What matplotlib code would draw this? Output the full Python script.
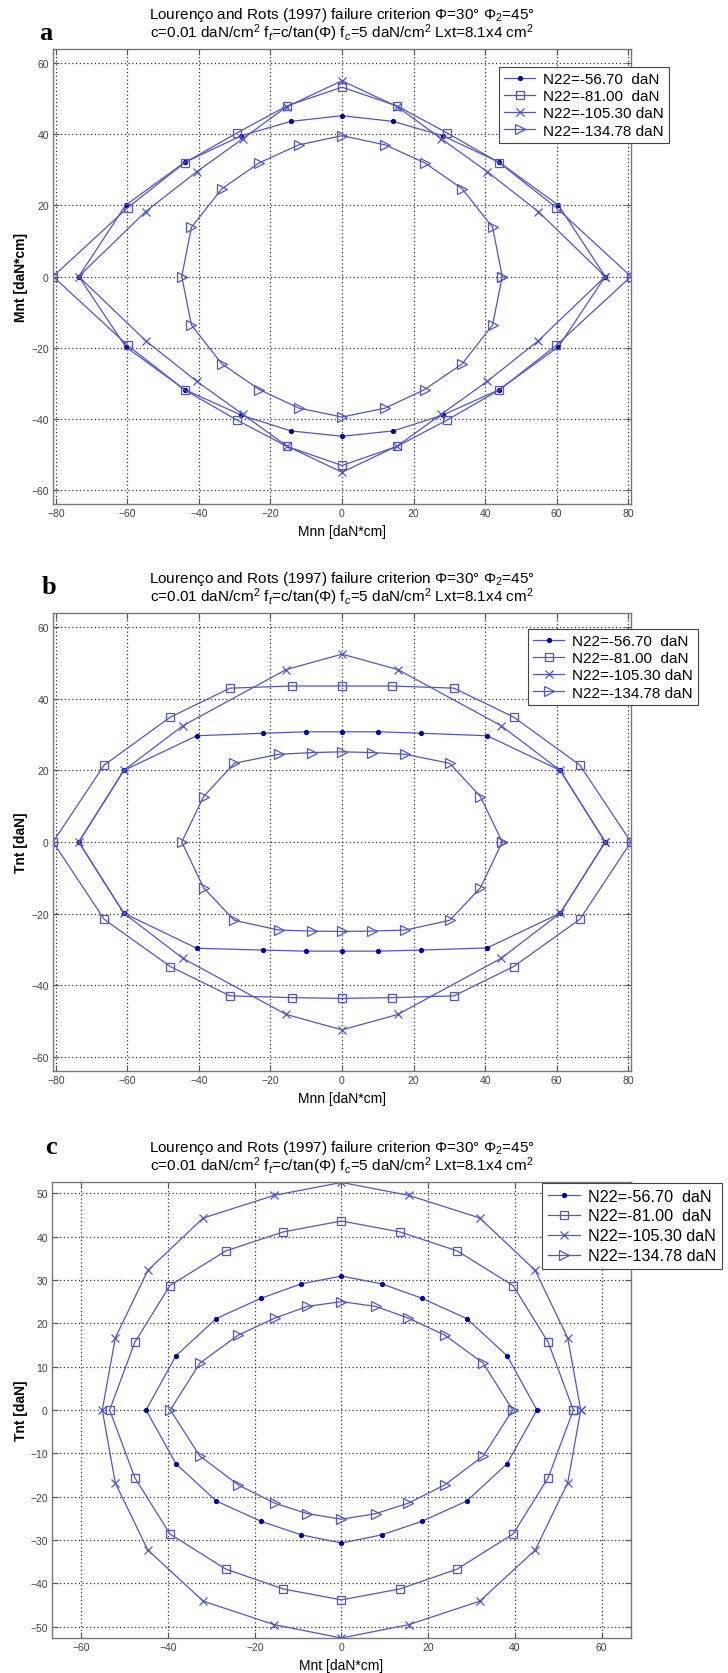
import matplotlib
matplotlib.use("Agg")
import matplotlib.pyplot as plt

plt.rcParams['font.family'] = ['Liberation Sans', 'DejaVu Sans']
plt.rcParams['mathtext.fontset'] = 'custom'
plt.rcParams['mathtext.rm'] = 'Liberation Sans'
plt.rcParams['mathtext.it'] = 'Liberation Sans:italic'
plt.rcParams['mathtext.bf'] = 'Liberation Sans:bold'

# ---------------- data ----------------
labels = ["N22=-56.70  daN", "N22=-81.00  daN", "N22=-105.30 daN", "N22=-134.78 daN"]

# Panel a : Mnn vs Mnt
a_x_1 = [73.6, 60.5, 44.0, 28.1, 14.3, 0, -14.3, -28.1, -44.0, -60.5, -73.6, -60.5, -44.0, -28.1, -14.3, 0, 14.3, 28.1, 44.0, 60.5, 73.6]
a_y_1 = [0, 20.0, 32.0, 39.5, 43.5, 45.1, 43.5, 39.5, 32.0, 20.0, 0, -19.7, -31.7, -38.9, -43.3, -44.8, -43.3, -38.9, -31.7, -19.7, 0]
a_x_2 = [80.8, 59.9, 44.0, 29.3, 15.5, 0, -15.5, -29.3, -44.0, -59.9, -80.8, -59.9, -44.0, -29.3, -15.5, 0, 15.5, 29.3, 44.0, 59.9, 80.8]
a_y_2 = [0, 19.3, 31.9, 40.3, 47.8, 53.1, 47.8, 40.3, 31.9, 19.3, 0, -19.3, -31.8, -40.3, -47.6, -53.0, -47.6, -40.3, -31.8, -19.3, 0]
a_x_3 = [73.6, 54.9, 40.6, 27.8, 15.5, 0, -15.5, -27.8, -40.6, -54.9, -73.6, -54.9, -40.6, -27.8, -15.5, 0, 15.5, 27.8, 40.6, 54.9, 73.6]
a_y_3 = [0, 18.2, 29.4, 38.6, 47.6, 54.9, 47.6, 38.6, 29.4, 18.2, 0, -18.0, -29.4, -38.6, -47.5, -54.9, -47.5, -38.6, -29.4, -18.0, 0]
a_x_4 = [44.8, 42.1, 33.6, 23.1, 12.1, 0, -12.1, -23.1, -33.6, -42.1, -44.8, -42.1, -33.6, -23.1, -12.1, 0, 12.1, 23.1, 33.6, 42.1, 44.8]
a_y_4 = [0, 13.8, 24.6, 31.9, 36.9, 39.5, 36.9, 31.9, 24.6, 13.8, 0, -13.6, -24.5, -31.7, -36.9, -39.4, -36.9, -31.7, -24.5, -13.6, 0]

# Panel b : Mnn vs Tnt
b_x_1 = [73.6, 61.0, 40.6, 22.0, 10.2, 0, -10.2, -22.0, -40.6, -61.0, -73.6, -61.0, -40.6, -22.0, -10.2, 0, 10.2, 22.0, 40.6, 61.0, 73.6]
b_y_1 = [0, 20.0, 29.7, 30.4, 30.8, 30.8, 30.8, 30.4, 29.7, 20.0, 0, -19.9, -29.7, -30.2, -30.5, -30.5, -30.5, -30.2, -29.6, -19.9, 0]
b_x_2 = [80.8, 66.5, 48.0, 31.3, 14.0, 0, -14.0, -31.3, -48.0, -66.5, -80.8, -66.5, -48.0, -31.3, -14.0, 0, 14.0, 31.3, 48.0, 66.5, 80.8]
b_y_2 = [0, 21.5, 34.9, 43.0, 43.6, 43.6, 43.6, 43.0, 34.9, 21.5, 0, -21.6, -34.8, -43.0, -43.5, -43.7, -43.5, -43.0, -34.8, -21.6, 0]
b_x_3 = [73.6, 61.0, 44.5, 15.6, 0, -15.6, -44.5, -61.0, -73.6, -61.0, -44.5, -15.6, 0, 15.6, 44.5, 61.0, 73.6]
b_y_3 = [0, 20.0, 32.5, 48.2, 52.5, 48.2, 32.5, 20.0, 0, -19.9, -32.5, -48.2, -52.5, -48.2, -32.5, -19.9, 0]
b_x_4 = [44.8, 38.7, 30.1, 17.7, 8.3, 0, -8.3, -17.7, -30.1, -38.7, -44.8, -38.7, -30.1, -17.7, -8.3, 0, 8.3, 17.7, 30.1, 38.7, 44.8]
b_y_4 = [0, 12.7, 22.0, 24.5, 25.0, 25.2, 25.0, 24.5, 22.0, 12.7, 0, -12.8, -21.9, -24.6, -24.9, -25.0, -24.9, -24.6, -21.9, -12.8, 0]

# Panel c : Mnt vs Tnt
c_x_1 = [45.1, 38.2, 28.9, 18.5, 9.3, 0, -9.3, -18.5, -28.9, -38.2, -45.1, -38.2, -28.9, -18.5, -9.3, 0, 9.3, 18.5, 28.9, 38.2, 45.1]
c_y_1 = [0, 12.5, 21.1, 25.8, 29.1, 30.9, 29.1, 25.8, 21.1, 12.5, 0, -12.4, -21.0, -25.7, -28.8, -30.7, -28.8, -25.7, -21.0, -12.4, 0]
c_x_2 = [53.5, 47.7, 39.6, 26.7, 13.4, 0, -13.4, -26.7, -39.6, -47.7, -53.5, -47.7, -39.6, -26.7, -13.4, 0, 13.4, 26.7, 39.6, 47.7, 53.5]
c_y_2 = [0, 15.6, 28.7, 36.7, 41.1, 43.6, 41.1, 36.7, 28.7, 15.6, 0, -15.6, -28.6, -36.7, -41.3, -43.8, -41.3, -36.7, -28.6, -15.6, 0]
c_x_3 = [55.2, 52.2, 44.7, 31.9, 15.6, 0, -15.6, -31.9, -44.7, -52.2, -55.2, -52.2, -44.7, -31.9, -15.6, 0, 15.6, 31.9, 44.7, 52.2, 55.2]
c_y_3 = [0, 16.6, 32.2, 44.3, 49.5, 52.5, 49.5, 44.3, 32.2, 16.6, 0, -16.8, -32.3, -44.1, -49.5, -52.6, -49.5, -44.1, -32.3, -16.8, 0]
c_x_4 = [39.5, 32.7, 23.8, 15.4, 7.9, 0, -7.9, -15.4, -23.8, -32.7, -39.5, -32.7, -23.8, -15.4, -7.9, 0, 7.9, 15.4, 23.8, 32.7, 39.5]
c_y_4 = [0, 10.8, 17.3, 21.2, 23.9, 25.0, 23.9, 21.2, 17.3, 10.8, 0, -10.6, -17.3, -21.5, -23.9, -25.2, -23.9, -21.5, -17.3, -10.6, 0]

title1 = "Lourenço and Rots (1997) failure criterion Φ=30° Φ$_2$=45°"
title2 = "c=0.01 daN/cm$^2$ f$_t$=c/tan(Φ) f$_c$=5 daN/cm$^2$ Lxt=8.1x4 cm$^2$"

# ---------------- figure ----------------
W, H = 728, 1674
fig = plt.figure(figsize=(W / 100, H / 100), dpi=100)

LINE = '#5252d6'
DOT = '#0000b4'

def px_axes(l, t, r, b):
    return fig.add_axes([l / W, 1 - b / H, (r - l) / W, (b - t) / H])

styles = [
    dict(marker='.', markersize=5.5, markerfacecolor=DOT, markeredgecolor=DOT),
    dict(marker='s', markersize=6, markerfacecolor='none', markeredgecolor=LINE, markeredgewidth=0.9),
    dict(marker='x', markersize=6, markeredgecolor=LINE, markeredgewidth=0.9),
    dict(marker='>', markersize=7, markerfacecolor='none', markeredgecolor=LINE, markeredgewidth=0.9),
]

def panel(box, series, xlim, ylim, xticks, yticks, xlabel, ylabel, letter, letter_pos,
          leg_pos, leg_spacing, leg_fs):
    l, t, r, b = box
    ax = px_axes(l, t, r, b)
    for (xs, ys), st, lab in zip(series, styles, labels):
        ax.plot(xs, ys, color=LINE, linewidth=0.9, label=lab, **st)
    ax.set_xlim(*xlim)
    ax.set_ylim(*ylim)
    ax.set_xticks(xticks)
    ax.set_yticks(yticks)
    ax.grid(True, linestyle=(0, (1, 2)), color='#333333', linewidth=0.9)
    ax.tick_params(direction='in', top=True, right=True, length=4, width=0.8,
                   color='#555555', labelsize=7.5, labelcolor='#444444', pad=3)
    for s in ax.spines.values():
        s.set_color('#777777')
        s.set_linewidth(1.0)
    ax.set_xlabel(xlabel, fontsize=10, labelpad=4)
    ax.set_ylabel(ylabel, fontsize=10, fontweight='bold')
    ax.yaxis.set_label_coords((28 - l) / (r - l), 0.5)
    cx = (l + r) / 2
    fig.text(cx / W, 1 - (t - 31) / H, title1, ha='center', va='baseline', fontsize=11)
    fig.text(cx / W, 1 - (t - 12) / H, title2, ha='center', va='baseline', fontsize=11)
    fig.text(letter_pos[0] / W, 1 - letter_pos[1] / H, letter, family=['Liberation Serif', 'DejaVu Serif'],
             fontweight='bold', fontsize=19, ha='center', va='center')
    leg = ax.legend(loc='upper left', bbox_to_anchor=(leg_pos[0] / W, 1 - leg_pos[1] / H),
                    bbox_transform=fig.transFigure, fontsize=leg_fs, frameon=True, fancybox=False,
                    edgecolor='#444444', framealpha=1, borderpad=0.35, labelspacing=leg_spacing,
                    handlelength=2.0, handletextpad=0.5, borderaxespad=0)
    leg.get_frame().set_linewidth(0.8)
    return ax

panel((53, 50, 631, 505),
      [(a_x_1, a_y_1), (a_x_2, a_y_2), (a_x_3, a_y_3), (a_x_4, a_y_4)],
      (-80.8, 80.8), (-63.8, 63.8), range(-80, 81, 20), range(-60, 61, 20),
      "Mnn [daN*cm]", "Mnt [daN*cm]", "a", (46, 34), (499, 68), 0.2, 11)

panel((53, 614, 631, 1072),
      [(b_x_1, b_y_1), (b_x_2, b_y_2), (b_x_3, b_y_3), (b_x_4, b_y_4)],
      (-80.8, 80.8), (-64.0, 64.0), range(-80, 81, 20), range(-60, 61, 20),
      "Mnn [daN*cm]", "Tnt [daN]", "b", (49, 588), (528, 630), 0.2, 11)

panel((52, 1183, 631, 1639),
      [(c_x_1, c_y_1), (c_x_2, c_y_2), (c_x_3, c_y_3), (c_x_4, c_y_4)],
      (-66.8, 66.8), (-52.6, 52.6), range(-60, 61, 20), range(-50, 51, 10),
      "Mnt [daN*cm]", "Tnt [daN]", "c", (51, 1147), (542, 1184), 0.3, 11.6)

fig.savefig("out.png", dpi=100)
